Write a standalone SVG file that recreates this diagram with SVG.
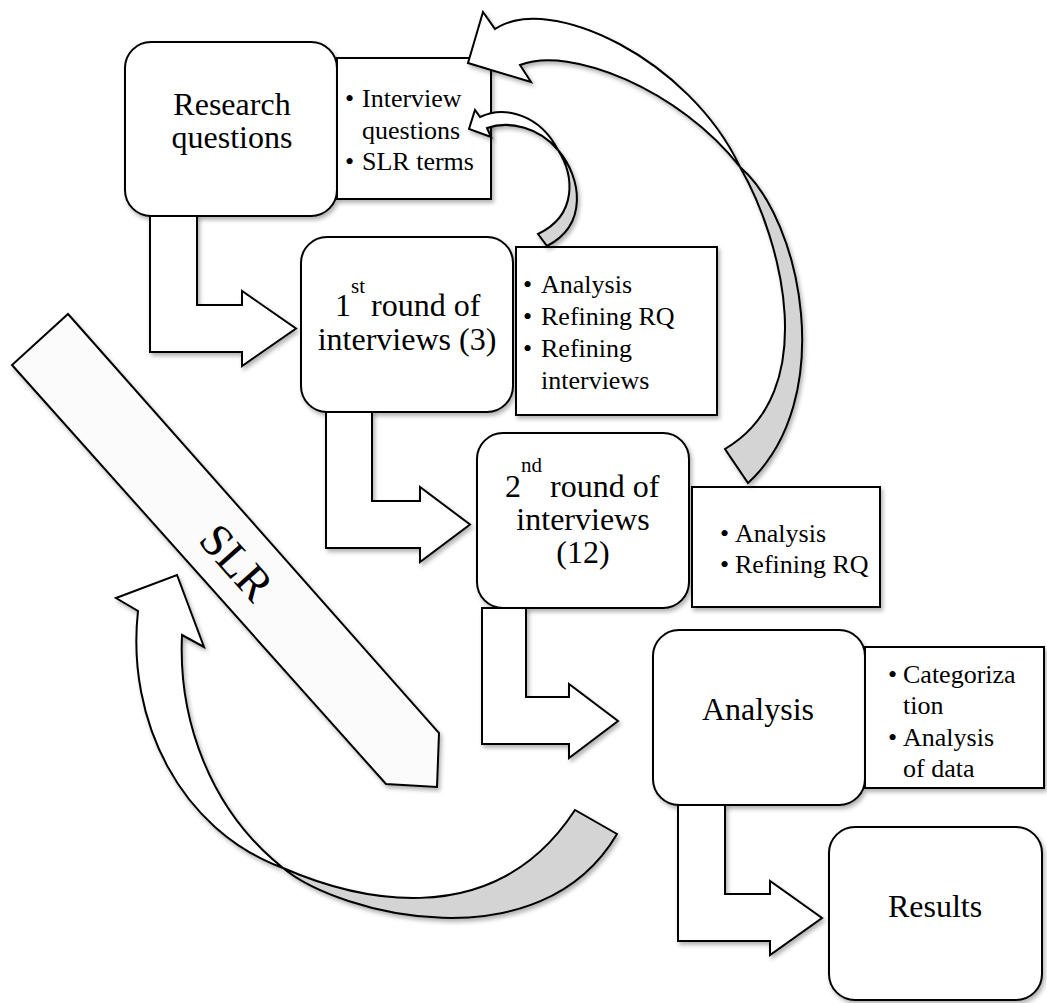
<svg xmlns="http://www.w3.org/2000/svg" width="1047" height="1003" viewBox="0 0 1047 1003">
  <defs>
    <filter id="shadow" x="-10%" y="-10%" width="130%" height="130%">
      <feDropShadow dx="2" dy="3" stdDeviation="2.2" flood-color="#000" flood-opacity="0.3"/>
    </filter>
    <style>
      .box { fill: #fff; stroke: #000; stroke-width: 2; filter: url(#shadow); }
      .note { fill: #fff; stroke: #000; stroke-width: 2; filter: url(#shadow); }
      .shape { fill: #fff; stroke: #000; stroke-width: 2; stroke-linejoin: miter; }
      .back { fill: #d4d4d4; stroke: #000; stroke-width: 2; }
      .title { font-family: "Liberation Serif", "Times New Roman", serif; font-size: 32px; fill: #000; text-anchor: middle; }
      .lead { font-family: "Liberation Serif", "Times New Roman", serif; font-size: 32px; fill: #000; }
      .sup { font-family: "Liberation Serif", "Times New Roman", serif; font-size: 21px; fill: #000; }
      .item { font-family: "Liberation Serif", "Times New Roman", serif; font-size: 26px; fill: #000; }
    </style>
  </defs>

  <rect width="1047" height="1003" fill="#fff"/>

  <!-- SLR band -->
  <g id="node-slr">
    <polygon class="shape" style="fill:#fbfbfb; filter:url(#shadow)" points="68,314 439,733 437,787 386,784 12,365"/>
    <text class="title" style="font-size:46px" transform="translate(237,562) rotate(48.4)" x="0" y="16">SLR</text>
  </g>

  <!-- Process steps -->
  <g id="node-research">
    <rect class="box" x="125" y="42" width="212" height="174" rx="26"/>
    <text class="title" x="232" y="115">Research</text>
    <text class="title" x="232" y="148">questions</text>
  </g>
  <g id="note-research">
    <rect class="note" x="337" y="58" width="154" height="141"/>
    <text class="item" x="345" y="107">•</text>
    <text class="item" x="362" y="107">Interview</text>
    <text class="item" x="362" y="139">questions</text>
    <text class="item" x="345" y="170">•</text>
    <text class="item" x="362" y="170">SLR terms</text>
  </g>

  <g id="node-round1">
    <rect class="box" x="301" y="237" width="212" height="175" rx="26"/>
    <text class="lead" x="335" y="316">1</text>
    <text class="sup" x="351" y="293">st</text>
    <text class="lead" x="371" y="316">round of</text>
    <text class="title" x="407" y="350">interviews (3)</text>
  </g>
  <g id="note-round1">
    <rect class="note" x="516" y="247" width="201" height="168"/>
    <text class="item" x="523" y="293">•</text>
    <text class="item" x="541" y="293">Analysis</text>
    <text class="item" x="523" y="325">•</text>
    <text class="item" x="541" y="325">Refining RQ</text>
    <text class="item" x="523" y="357">•</text>
    <text class="item" x="541" y="357">Refining</text>
    <text class="item" x="541" y="389">interviews</text>
  </g>

  <g id="node-round2">
    <rect class="box" x="477" y="433" width="212" height="175" rx="26"/>
    <text class="lead" x="505" y="497">2</text>
    <text class="sup" x="521" y="472">nd</text>
    <text class="lead" x="550" y="497">round of</text>
    <text class="title" x="583" y="530">interviews</text>
    <text class="title" x="583" y="563">(12)</text>
  </g>
  <g id="note-round2">
    <rect class="note" x="692" y="487" width="188" height="120"/>
    <text class="item" x="720" y="542">•</text>
    <text class="item" x="735" y="542">Analysis</text>
    <text class="item" x="720" y="573">•</text>
    <text class="item" x="735" y="573">Refining RQ</text>
  </g>

  <g id="node-analysis">
    <rect class="box" x="653" y="630" width="212" height="175" rx="26"/>
    <text class="title" x="758" y="720">Analysis</text>
  </g>
  <g id="note-analysis">
    <rect class="note" x="865" y="647" width="179" height="141"/>
    <text class="item" x="888" y="683">•</text>
    <text class="item" x="903" y="683">Categoriza</text>
    <text class="item" x="903" y="714">tion</text>
    <text class="item" x="888" y="746">•</text>
    <text class="item" x="903" y="746">Analysis</text>
    <text class="item" x="903" y="777">of data</text>
  </g>

  <g id="node-results">
    <rect class="box" x="829" y="827" width="213" height="173" rx="26"/>
    <text class="title" x="935" y="917">Results</text>
  </g>

  <!-- Connectors: bent step arrows and curved feedback arrows -->
  <g id="connectors">
    <g filter="url(#shadow)">
      <polygon class="shape" points="150,216 150,352 242,352 242,366 296,328.5 242,291 242,305 197,305 197,216"/>
      <polygon class="shape" points="326,412 326,548 420,548 420,562 470,524.5 420,487 420,501 372,501 372,412"/>
      <polygon class="shape" points="482,608 482,744 569,744 569,758 618,721 569,684 569,697 526,697 526,608"/>
      <polygon class="shape" points="678,805 678,941 770,941 770,955 822,918 770,881 770,894 725,894 725,805"/>
    </g>

    <!-- feedback from 1st round notes to interview questions -->
    <g id="loop-small" filter="url(#shadow)">
      <path class="back" d="M558,150 C574,175 578,215 538,234 L547,246 C588,225 582,178 558,150 Z"/>
      <path class="shape" d="M558,150 C540,115 505,105 480,117 L475,110 L469,129 L491,137 L487,128 C510,120 540,128 558,150 Z"/>
    </g>

    <!-- feedback from 2nd round notes to research questions -->
    <g id="loop-large" filter="url(#shadow)">
      <path class="back" d="M740,167 C782,240 822,392 725,449 L748,483 C838,400 802,220 740,167 Z"/>
      <path class="shape" d="M740,167 C690,60 550,-8 495,29 L483,12 L468,63 L531,82 L520,65 C570,45 680,90 740,167 Z"/>
    </g>

    <!-- feedback from analysis back to SLR -->
    <g id="loop-bottom" filter="url(#shadow)">
      <path class="back" d="M283,868 C345,895 490,940 575,810 L617,834 C540,965 340,915 283,868 Z"/>
      <path class="shape" d="M283,868 C210,810 178,720 182,635 L204,647 L177,575 L116,598 L138,611 C126,720 180,830 283,868 Z"/>
    </g>
  </g>
</svg>
